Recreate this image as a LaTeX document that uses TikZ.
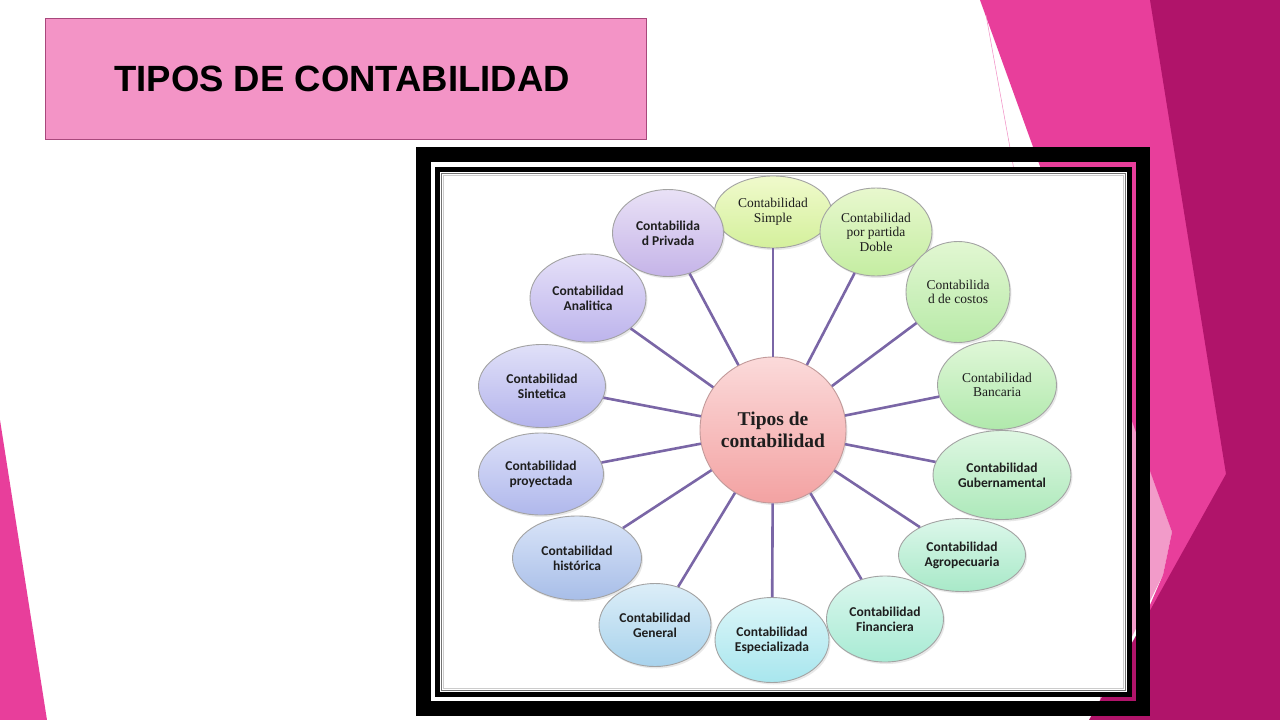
\documentclass[tikz,border=0pt]{standalone}
\usepackage{fontspec}
\usetikzlibrary{shapes.geometric,shadows}
\newfontfamily\titlefont{Liberation Sans}
\newfontfamily\sansb{Carlito}
\newfontfamily\serifa{Liberation Serif}
\definecolor{hotpink}{HTML}{E83E9B}
\definecolor{darkmag}{HTML}{B0146A}
\definecolor{lightpink}{HTML}{F29BC9}
\definecolor{titlefill}{HTML}{F394C6}
\definecolor{titleedge}{HTML}{A8487C}
\definecolor{linkcol}{HTML}{7A66A6}
\definecolor{elledge}{HTML}{A3A3A3}
\definecolor{ellhub}{HTML}{C29A9A}
\definecolor{hubtop}{HTML}{FBDADA}
\definecolor{hubbot}{HTML}{F3A2A2}
\definecolor{txt}{HTML}{1E1E1E}
\definecolor{t1}{HTML}{F0FACC}\definecolor{b1}{HTML}{D4F09C}
\definecolor{t2}{HTML}{E8F8CE}\definecolor{b2}{HTML}{C4EDA2}
\definecolor{t3}{HTML}{E2F7D2}\definecolor{b3}{HTML}{B8EAA8}
\definecolor{t4}{HTML}{E0F7D8}\definecolor{b4}{HTML}{B0E9AC}
\definecolor{t5}{HTML}{DEF7E2}\definecolor{b5}{HTML}{ADE9BA}
\definecolor{t6}{HTML}{DCF7EA}\definecolor{b6}{HTML}{A8E9C8}
\definecolor{t7}{HTML}{DCF7EE}\definecolor{b7}{HTML}{A8EBD4}
\definecolor{t8}{HTML}{DCF6F8}\definecolor{b8}{HTML}{A8E6EE}
\definecolor{t9}{HTML}{DCEEF8}\definecolor{b9}{HTML}{A8D2EC}
\definecolor{t10}{HTML}{D9E4F8}\definecolor{b10}{HTML}{A8BEE8}
\definecolor{t11}{HTML}{DCE0F8}\definecolor{b11}{HTML}{B0B8EC}
\definecolor{t12}{HTML}{E0E0F8}\definecolor{b12}{HTML}{B4B4EC}
\definecolor{t13}{HTML}{E5E0F8}\definecolor{b13}{HTML}{BDB4EC}
\definecolor{t14}{HTML}{E9E1F6}\definecolor{b14}{HTML}{C5B4E8}
\tikzset{
  bub/.style={ellipse, draw=elledge, line width=0.9pt, inner sep=0pt, align=center,
    text=txt, drop shadow={opacity=0.18, shadow xshift=1.5pt, shadow yshift=-2pt}},
  sz/.style 2 args={minimum width=#1pt, minimum height=#2pt},
  grad/.style={top color=t#1, bottom color=b#1},
  sr/.style={font=\serifa\fontsize{13.5}{14.5}\selectfont},
  ss/.style={font=\sansb\bfseries\fontsize{13.5}{15}\selectfont},
  link/.style={draw=linkcol, line width=2.6pt},
}
\begin{document}
\begin{tikzpicture}[x=1pt,y=-1pt]
\useasboundingbox (0,0) rectangle (1280,720);
\fill[white] (0,0) rectangle (1280,720);
% background decoration
\fill[hotpink] (0,420) -- (47,720) -- (0,720) -- cycle;
\fill[lightpink] (1100,330) -- (1172,532) -- (1163,575) -- (1100,700) -- cycle;
\fill[hotpink] (980,0) -- (1280,0) -- (1280,720) -- (1100,720) -- (1163,575) -- (1172,532) -- cycle;
\draw[hotpink!60, line width=0.5pt] (986,15) -- (1014,170);
\fill[darkmag] (1150,0) -- (1280,0) -- (1280,720) -- (1089,720) -- (1226,474) -- cycle;
% title
\node[draw=titleedge, fill=titlefill, line width=1.2pt, minimum width=601pt, minimum height=121pt, inner sep=0pt] (title) at (346,79) {};
\node[font=\titlefont\bfseries\fontsize{36.5}{40}\selectfont, inner sep=0pt] (titletext) at (342,79) {TIPOS DE CONTABILIDAD};
% frame
\draw[black, line width=14.5pt] (423.5,154.5) rectangle (1143,708.5);
\fill[white] (440,172) rectangle (1127,692);
\draw[black!55, line width=1.2pt] (441.5,173.5) rectangle (1125.5,690.5);
\draw[black!20, line width=1.5pt] (443.5,175.5) rectangle (1123.5,688.5);
\draw[black, line width=5pt] (437.5,169.5) rectangle (1129.5,694.5);
% central
\node[circle, draw=ellhub, line width=0.9pt, minimum size=146pt, inner sep=0pt, align=center,
  top color=hubtop, bottom color=hubbot, text=txt,
  drop shadow={opacity=0.18, shadow xshift=1.5pt, shadow yshift=-2pt},
  font=\serifa\bfseries\fontsize{19.5}{22}\selectfont] (c) at (773,430) {Tipos de\\contabilidad};
% bubbles
\node[bub,sr,grad=1,sz={117}{72}]  (n1)  at (773,212) {Contabilidad\\Simple};
\node[bub,sr,grad=2,sz={112}{88}]  (n2)  at (876,232) {Contabilidad\\por partida\\Doble};
\node[bub,sr,grad=3,sz={104}{101}] (n3)  at (958,292) {Contabilida\\d de costos};
\node[bub,sr,grad=4,sz={119}{89}]  (n4)  at (997,385) {Contabilidad\\Bancaria};
\node[bub,ss,grad=5,sz={138}{89}]  (n5)  at (1002,475) {Contabilidad\\Gubernamental};
\node[bub,ss,grad=6,sz={127}{73}]  (n6)  at (962,555) {Contabilidad\\Agropecuaria};
\node[bub,ss,grad=7,sz={117}{86}]  (n7)  at (885,619) {Contabilidad\\Financiera};
\node[bub,ss,grad=8,sz={114}{85}]  (n8)  at (772,640) {Contabilidad\\Especializada};
\node[bub,ss,grad=9,sz={112}{83}]  (n9)  at (655,625) {Contabilidad\\General};
\node[bub,ss,grad=10,sz={129}{84}] (n10) at (577,558) {Contabilidad\\histórica};
\node[bub,ss,grad=11,sz={125}{82}] (n11) at (541,474) {Contabilidad\\proyectada};
\node[bub,ss,grad=12,sz={127}{83}] (n12) at (542,386) {Contabilidad\\Sintetica};
\node[bub,ss,grad=13,sz={116}{88}] (n13) at (588,298) {Contabilidad\\Analitica};
\node[bub,ss,grad=14,sz={111}{87}] (n14) at (668,233) {Contabilida\\d Privada};
% links
\foreach \i in {1,...,14} \draw[link] (c) -- (n\i);
\end{tikzpicture}
\end{document}
